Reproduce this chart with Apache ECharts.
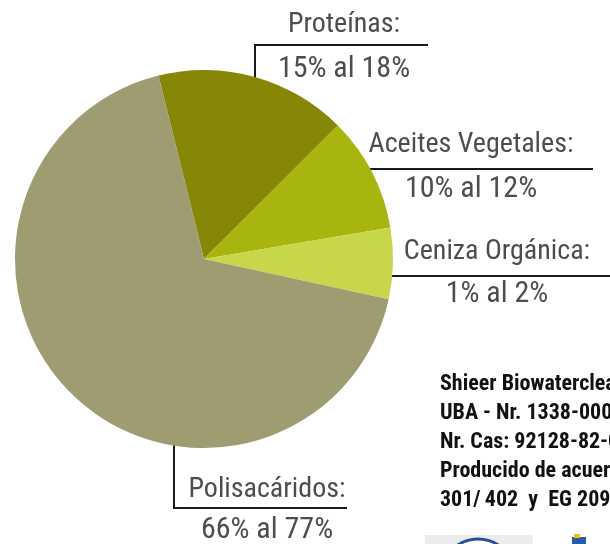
<!DOCTYPE html>
<html>
<head>
<meta charset="utf-8">
<script src="https://cdn.jsdelivr.net/npm/echarts@6/dist/echarts.min.js"></script>
<style>
html,body{margin:0;padding:0;background:#fff;}
#chart{width:610px;height:544px;}
</style>
</head>
<body>
<div id="chart"></div>
<script>
// Data (slice shares estimated from the reference picture's angles)
var categories = ['Proteínas:', 'Aceites Vegetales:', 'Ceniza Orgánica:', 'Polisacáridos:'];
var shares = [16.4, 9.8, 6.1, 67.7];
var rangeLabels = ['15% al 18%', '10% al 12%', '1% al 2%', '66% al 77%'];
var colors = ['#878707', '#a7b50e', '#c8d64b', '#a09c71'];
var infoLines = [
  'Shieer Biowaterclean',
  'UBA - Nr. 1338-0000',
  'Nr. Cas: 92128-82-0',
  'Producido de acuerdo',
  '301/\u2009402  y  EG 2090'
];

// Layout (label anchors and leader lines)
var labelPos = [[344, 47], [471, 167], [497, 273], [267, 510]];
var lineHeights = [44, 44, 43, 40];
var leaderLines = [
  [[255, 103], [255, 45], [428, 45]],
  [[348, 169], [470, 169], [593, 169]],
  [[378, 276], [494, 276], [612, 276]],
  [[174, 403], [174, 508], [347, 508]]
];

var FONT = "'Roboto Condensed', 'DejaVu Sans Condensed', sans-serif";

var data = categories.map(function (c, i) {
  return {
    name: c,
    value: shares[i],
    itemStyle: { color: colors[i] },
    label: {
      rich: {
        n: { fontSize: 28, fontFamily: FONT, fontWeight: 'normal', color: '#4d4d4d', lineHeight: lineHeights[i], align: 'center' },
        v: { fontSize: 30, fontFamily: FONT, fontWeight: 'normal', color: '#4d4d4d', lineHeight: lineHeights[i], align: 'center' }
      }
    }
  };
});

var chart = echarts.init(document.getElementById('chart'), null, { renderer: 'canvas' });
chart.setOption({
  backgroundColor: '#ffffff',
  animation: false,
  title: {
    text: infoLines.join('\n'),
    left: 440,
    top: 370,
    padding: 0,
    textStyle: {
      fontSize: 22,
      fontWeight: 'bold',
      fontFamily: FONT,
      color: '#111111',
      lineHeight: 29
    }
  },
  graphic: [
    { type: 'rect', shape: { x: 425, y: 535, width: 108, height: 12 }, style: { fill: '#ececec' }, silent: true },
    { type: 'circle', shape: { cx: 478, cy: 576, r: 37 }, style: { fill: '#ffffff', stroke: '#2a4f9a', lineWidth: 3 }, silent: true },
    { type: 'rect', shape: { x: 572, y: 537, width: 14, height: 10 }, style: { fill: '#2a5aa8' }, silent: true },
    { type: 'rect', shape: { x: 574, y: 534, width: 6, height: 4 }, style: { fill: '#e6c21c' }, silent: true }
  ],
  series: [{
    type: 'pie',
    center: [204, 259],
    radius: [0, 189],
    startAngle: 103.95,
    clockwise: true,
    avoidLabelOverlap: false,
    data: data,
    itemStyle: { borderWidth: 0 },
    emphasis: { disabled: true },
    label: {
      show: true,
      position: 'outside',
      formatter: function (p) {
        return '{n|' + p.name + '}\n{v|' + rangeLabels[p.dataIndex] + '}';
      }
    },
    labelLine: {
      show: true,
      smooth: false,
      lineStyle: { color: '#1a1a1a', width: 2 }
    },
    labelLayout: function (params) {
      var i = params.dataIndex;
      return {
        x: labelPos[i][0],
        y: labelPos[i][1],
        align: 'center',
        verticalAlign: 'middle',
        labelLinePoints: leaderLines[i]
      };
    }
  }]
});
</script>
</body>
</html>
